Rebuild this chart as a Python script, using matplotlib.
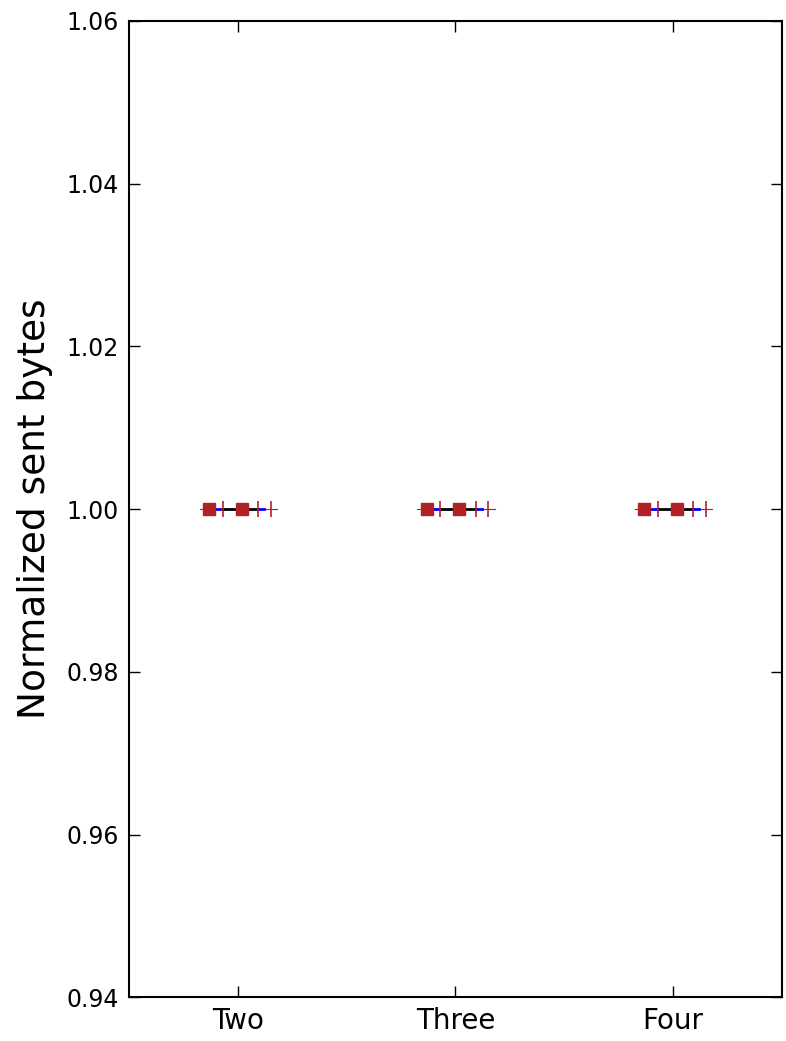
import numpy as np
import matplotlib.pyplot as plt

categorias = ['Two', 'Three', 'Four']
# valores normalizados (todos en 1.0)
valores_cuadrados = [[1.0, 1.0], [1.0, 1.0], [1.0, 1.0]]
valores_cruces = [[1.0, 1.0, 1.0], [1.0, 1.0, 1.0], [1.0, 1.0, 1.0]]

plt.rcParams['font.family'] = ['DejaVu Sans']
fig = plt.figure(figsize=(7.86, 10.41), dpi=100)
ax = fig.add_axes([0.164, 0.042, 0.831, 0.938])

x = np.arange(1, len(categorias) + 1)
rojo = '#b02226'

for i, xc in enumerate(x):
    y0 = valores_cuadrados[i][0]
    # linea roja fina
    ax.plot([xc - 0.175, xc + 0.18], [y0, y0], color=rojo, lw=0.8, zorder=1)
    # segmentos azul / negro / azul
    ax.plot([xc - 0.133, xc - 0.069], [y0, y0], color='blue', lw=2, zorder=2)
    ax.plot([xc - 0.069, xc + 0.092], [y0, y0], color='black', lw=2, zorder=2)
    ax.plot([xc + 0.092, xc + 0.12], [y0, y0], color='blue', lw=2, zorder=2)
    # cruces
    ax.plot(xc + np.array([-0.069, 0.092, 0.151]), valores_cruces[i], '|',
            color=rojo, ms=12, mew=1.2, zorder=3)
    # cuadrados
    ax.plot(xc + np.array([-0.133, 0.018]), valores_cuadrados[i], 's',
            color=rojo, mec=rojo, ms=8, zorder=4)

ax.set_xlim(0.5, 3.5)
ax.set_ylim(0.94, 1.06)
ax.set_yticks([0.94, 0.96, 0.98, 1.00, 1.02, 1.04, 1.06])
ax.set_yticklabels(['0.94', '0.96', '0.98', '1.00', '1.02', '1.04', '1.06'])
ax.set_xticks(x)
ax.set_xticklabels(categorias, fontsize=20)
ax.tick_params(axis='y', labelsize=17)
ax.tick_params(direction='in', length=8, width=1, top=True, right=True, pad=7)
for s in ax.spines.values():
    s.set_linewidth(1.5)
ax.set_ylabel('Normalized sent bytes', fontsize=27, labelpad=10)

fig.savefig('out.png', dpi=100, facecolor='white')
